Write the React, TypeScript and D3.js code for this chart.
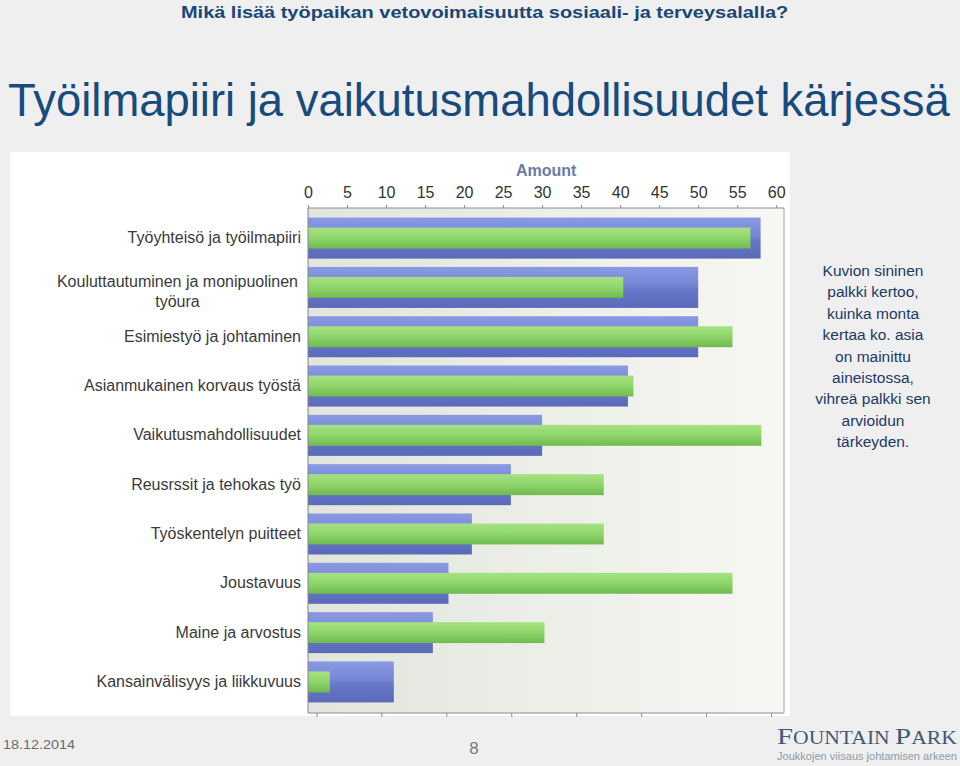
import React, { useEffect, useRef } from "react";
import * as d3 from "d3";

// chart values
const categories: string[] = [
  "Työyhteisö ja työilmapiiri",
  "Kouluttautuminen ja monipuolinen\ntyöura",
  "Esimiestyö ja johtaminen",
  "Asianmukainen korvaus työstä",
  "Vaikutusmahdollisuudet",
  "Reusrssit ja tehokas työ",
  "Työskentelyn puitteet",
  "Joustavuus",
  "Maine ja arvostus",
  "Kansainvälisyys ja liikkuvuus",
];
// blue bar: how many times mentioned
const mentions: number[] = [58, 50, 50, 41, 30, 26, 21, 18, 16, 11];
// green bar: estimated importance (drawn on the same axis)
const importance: number[] = [56.7, 40.4, 54.4, 41.7, 58.1, 37.9, 37.9, 54.4, 30.3, 2.8];
const amountTicks: number[] = [0, 5, 10, 15, 20, 25, 30, 35, 40, 45, 50, 55, 60];
const lowerTicks: number[] = [0, 1, 2, 3, 4, 5, 6, 7];

const noteLines: string[] = [
  "Kuvion sininen",
  "palkki kertoo,",
  "kuinka monta",
  "kertaa ko. asia",
  "on mainittu",
  "aineistossa,",
  "vihreä palkki sen",
  "arvioidun",
  "tärkeyden.",
];

const W = 960;
const H = 766;
const plot = { left: 308, right: 784, top: 208, bottom: 713 };
const sans = "'Liberation Sans', Arial, sans-serif";

// squeeze a text horizontally so it spans exactly `width` px from its x
const fitWidth = (sel: d3.Selection<SVGTextElement, unknown, null, undefined>, x0: number, width: number) => {
  const w = (sel.node() as SVGTextElement).getComputedTextLength();
  const k = width / w;
  sel.attr("x", 0).attr("transform", `translate(${x0},${sel.attr("y")}) scale(${k},1)`).attr("y", 0);
};

const App: React.FC = () => {
  const ref = useRef<SVGSVGElement>(null);

  useEffect(() => {
    if (!ref.current) return;
    const svg = d3.select(ref.current);
    svg.selectAll("*").remove();

    const defs = svg.append("defs");
    const bg = defs.append("linearGradient").attr("id", "plotBg").attr("x1", 0).attr("x2", 1).attr("y1", 0).attr("y2", 0);
    bg.append("stop").attr("offset", 0).attr("stop-color", "#e1e5db");
    bg.append("stop").attr("offset", 1).attr("stop-color", "#f7f7f4");

    const blue = defs.append("linearGradient").attr("id", "blueBar").attr("x1", 0).attr("x2", 0).attr("y1", 0).attr("y2", 1);
    blue.append("stop").attr("offset", 0).attr("stop-color", "#8a9ae2");
    blue.append("stop").attr("offset", 0.45).attr("stop-color", "#7686d6");
    blue.append("stop").attr("offset", 0.55).attr("stop-color", "#6878c8");
    blue.append("stop").attr("offset", 1).attr("stop-color", "#5a69b8");

    const green = defs.append("linearGradient").attr("id", "greenBar").attr("x1", 0).attr("x2", 0).attr("y1", 0).attr("y2", 1);
    green.append("stop").attr("offset", 0).attr("stop-color", "#a6e283");
    green.append("stop").attr("offset", 0.5).attr("stop-color", "#8ed56a");
    green.append("stop").attr("offset", 1).attr("stop-color", "#6fba4f");

    // page
    svg.append("rect").attr("width", W).attr("height", H).attr("fill", "#efefef");
    svg.append("rect").attr("x", 10).attr("y", 152).attr("width", 780).attr("height", 564).attr("fill", "#ffffff");

    const header = svg.append("text")
      .attr("y", 18)
      .attr("font-family", sans).attr("font-weight", "bold").attr("font-size", 17)
      .attr("fill", "#1b4777")
      .text("Mikä lisää työpaikan vetovoimaisuutta sosiaali- ja terveysalalla?");
    fitWidth(header, 181, 608);

    const title = svg.append("text")
      .attr("y", 116)
      .attr("font-family", sans).attr("font-size", 46)
      .attr("fill", "#174a7d")
      .text("Työilmapiiri ja vaikutusmahdollisuudet kärjessä");
    fitWidth(title, 8, 942);

    const x = d3.scaleLinear().domain([0, 61]).range([plot.left, plot.right]);
    const xLower = d3.scaleLinear().domain([-0.13, 7.2]).range([plot.left, plot.right]);
    const y = d3.scaleBand<string>().domain(categories).range([plot.top, plot.bottom - 1]).paddingInner(0.168).paddingOuter(0.194);

    svg.append("rect")
      .attr("x", plot.left).attr("y", plot.top)
      .attr("width", plot.right - plot.left).attr("height", plot.bottom - plot.top)
      .attr("fill", "url(#plotBg)");

    // blue bars
    svg.append("g").selectAll("rect").data(categories).enter().append("rect")
      .attr("x", x(0))
      .attr("y", (d) => y(d) as number)
      .attr("width", (d, i) => x(mentions[i]) - x(0))
      .attr("height", y.bandwidth())
      .attr("fill", "url(#blueBar)");

    // green bars
    const gh = y.bandwidth() * 0.51;
    svg.append("g").selectAll("rect").data(categories).enter().append("rect")
      .attr("x", x(0))
      .attr("y", (d) => (y(d) as number) + (y.bandwidth() - gh) / 2)
      .attr("width", (d, i) => x(importance[i]) - x(0))
      .attr("height", gh)
      .attr("fill", "url(#greenBar)");

    // frame
    svg.append("line").attr("x1", plot.left).attr("x2", plot.right).attr("y1", plot.top).attr("y2", plot.top).attr("stroke", "#8c8c8c");
    svg.append("line").attr("x1", plot.left).attr("x2", plot.right).attr("y1", plot.bottom).attr("y2", plot.bottom).attr("stroke", "#8c8c8c");
    svg.append("line").attr("x1", plot.left).attr("x2", plot.left).attr("y1", plot.top).attr("y2", plot.bottom).attr("stroke", "#7f8598");
    svg.append("line").attr("x1", plot.right).attr("x2", plot.right).attr("y1", plot.top).attr("y2", plot.bottom).attr("stroke", "#a6a6a6");

    // top axis
    const top = svg.append("g").attr("transform", `translate(0,${plot.top})`)
      .call(d3.axisTop(x).tickValues(amountTicks).tickSize(3).tickPadding(7));
    top.select(".domain").remove();
    top.selectAll("line").attr("stroke", "#8c8c8c");
    top.selectAll("text").attr("font-family", sans).attr("font-size", 16).attr("fill", "#333");

    svg.append("text")
      .attr("x", x(30) + 4).attr("y", 176)
      .attr("text-anchor", "middle")
      .attr("font-family", sans).attr("font-weight", "bold").attr("font-size", 16)
      .attr("fill", "#6b7aab")
      .text("Amount");

    // bottom axis, no labels
    const bottom = svg.append("g").attr("transform", `translate(0,${plot.bottom})`)
      .call(d3.axisBottom(xLower).tickValues(lowerTicks).tickSize(4).tickFormat(() => ""));
    bottom.select(".domain").remove();
    bottom.selectAll("line").attr("stroke", "#8c8c8c");

    // category labels
    const labels = svg.append("g");
    categories.forEach((c) => {
      const lines = c.split("\n");
      const cy = (y(c) as number) + y.bandwidth() / 2 + 5;
      const t = labels.append("text")
        .attr("font-family", sans).attr("font-size", 16).attr("fill", "#3a3a3a");
      if (lines.length === 1) {
        t.attr("x", 301).attr("y", cy).attr("text-anchor", "end").text(c);
      } else {
        t.attr("text-anchor", "middle");
        const first = t.append("tspan").attr("x", 0).attr("y", cy - 5).text(lines[0]);
        const wMax = (first.node() as SVGTSpanElement).getComputedTextLength();
        const cx = 298 - wMax / 2;
        first.attr("x", cx);
        lines.slice(1).forEach((l, k) => {
          t.append("tspan").attr("x", cx).attr("y", cy - 5 + 20 * (k + 1)).text(l);
        });
      }
    });

    // side note
    svg.append("g").selectAll("text").data(noteLines).enter().append("text")
      .attr("x", 873).attr("y", (d, i) => 276 + i * 21.4)
      .attr("text-anchor", "middle")
      .attr("font-family", sans).attr("font-size", 15.5)
      .attr("fill", "#1d3a66")
      .text((d) => d);

    // footer
    const date = svg.append("text").attr("y", 749)
      .attr("font-family", sans).attr("font-size", 13).attr("fill", "#6a6a6a")
      .text("18.12.2014");
    fitWidth(date, 3, 72);
    svg.append("text").attr("x", 474).attr("y", 754)
      .attr("text-anchor", "middle")
      .attr("font-family", sans).attr("font-size", 17).attr("fill", "#7a7a7a")
      .text("8");

    const logo = svg.append("text").attr("y", 744)
      .attr("font-family", "'Liberation Serif', serif").attr("fill", "#3d5a78");
    logo.append("tspan").attr("font-size", 24).text("F");
    logo.append("tspan").attr("font-size", 18).text("OUNTAIN ");
    logo.append("tspan").attr("font-size", 24).text("P");
    logo.append("tspan").attr("font-size", 18).text("ARK");
    fitWidth(logo, 777, 180);
    const tag = svg.append("text").attr("y", 760)
      .attr("font-family", sans).attr("font-size", 11).attr("fill", "#8e9aab")
      .text("Joukkojen viisaus johtamisen arkeen");
    fitWidth(tag, 777, 180);
  }, []);

  return (
    <div style={{ position: "absolute", left: 0, top: 0 }}>
      <svg ref={ref} width={W} height={H} style={{ display: "block" }} />
    </div>
  );
};

export default App;
